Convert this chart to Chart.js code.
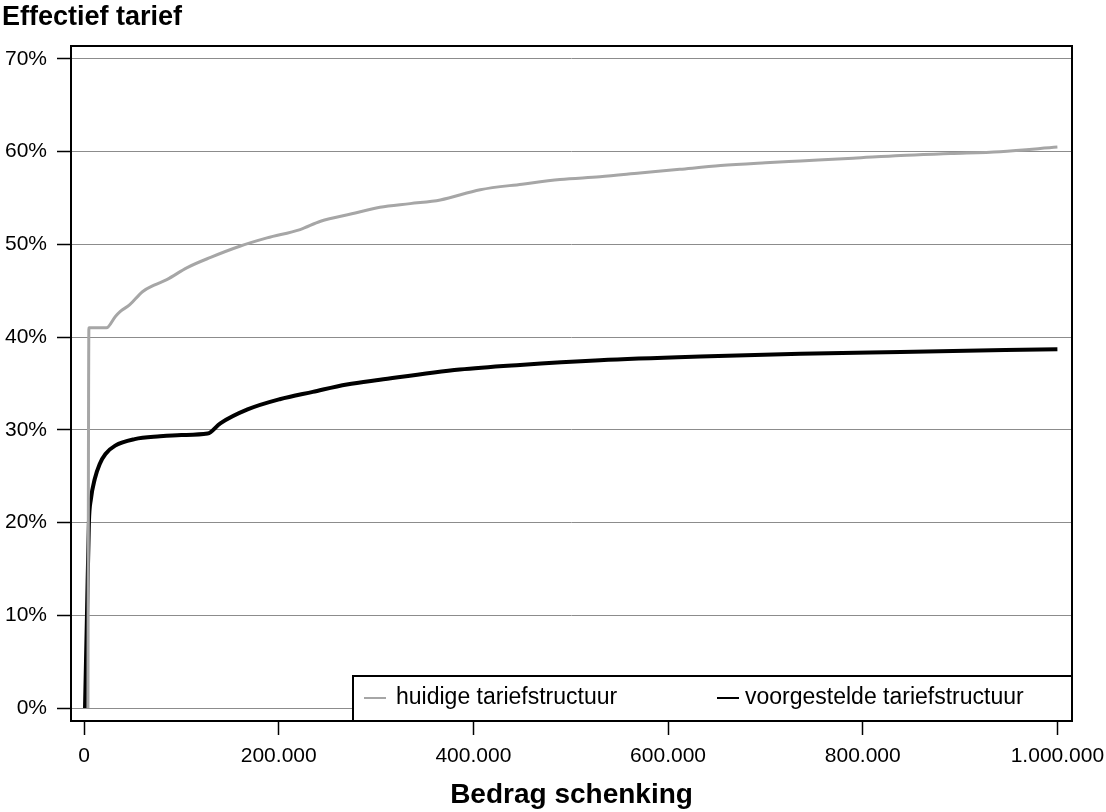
<!DOCTYPE html>
<html>
<head>
<meta charset="utf-8">
<script src="https://cdn.jsdelivr.net/npm/chart.js@4.4.0/dist/chart.umd.min.js"></script>
<style>
    html, body { margin: 0; padding: 0; background: #fff; }
    canvas { display: block; }
</style>
</head>
<body>
<canvas id="lineChart" width="1106" height="812"></canvas>
<script>
// tick labels
var xTicks = [0, 200000, 400000, 600000, 800000, 1000000];
var yTicks = [0, 10, 20, 30, 40, 50, 60, 70];

// huidige tariefstructuur (grijs)
var huidigeX = [4000, 5000, 23000, 32000, 37000, 47000, 60000, 72000, 85000, 106000, 130000, 160000, 188000, 222000, 243000, 275000, 304000, 335000, 366000, 407000, 450000, 489000, 530000, 571000, 612000, 654000, 700000, 736000, 790000, 839000, 890000, 941000, 1000000];
var huidigeY = [0, 41, 41, 42.2, 42.75, 43.5, 44.9, 45.6, 46.2, 47.5, 48.6, 49.8, 50.7, 51.6, 52.5, 53.3, 54, 54.4, 54.8, 55.9, 56.5, 57, 57.3, 57.7, 58.1, 58.5, 58.8, 59, 59.3, 59.6, 59.8, 60, 60.5];

// voorgestelde tariefstructuur (zwart)
var voorgesteldX = [1000, 3000, 5000, 7000, 11000, 16000, 22000, 32000, 52000, 78000, 100000, 127000, 140000, 168000, 201000, 235000, 270000, 304000, 386000, 448000, 530000, 633000, 736000, 839000, 1000000];
var voorgesteldY = [0, 10, 20, 22.5, 24.7, 26.3, 27.4, 28.3, 29, 29.3, 29.45, 29.6, 30.7, 32.2, 33.3, 34.1, 34.9, 35.4, 36.5, 37, 37.5, 37.9, 38.2, 38.4, 38.7];

var seriesLabels = ["huidige tariefstructuur", "voorgestelde tariefstructuur"];
var seriesColors = ["#a6a6a6", "#000000"];

var fontFamily = "'Liberation Sans', Arial, sans-serif";

function toPoints(xs, ys) {
    return xs.map(function(x, i) { return { x: x, y: ys[i] }; });
}

function formatThousands(v) {
    return String(v).replace(/\B(?=(\d{3})+(?!\d))/g, ".");
}

// box around plot area + legend inside bottom right
var frameAndLegend = {
    id: "frameAndLegend",
    afterDatasetsDraw: function(chart) {
        var ctx = chart.ctx;
        var area = chart.chartArea;
        ctx.save();
        ctx.strokeStyle = "#000";
        ctx.lineWidth = 2;
        ctx.strokeRect(area.left, area.top, area.right - area.left, area.bottom - area.top);

        var boxLeft = area.left + 282;
        var boxTop = area.bottom - 45;
        ctx.fillStyle = "#fff";
        ctx.fillRect(boxLeft, boxTop, area.right - boxLeft, area.bottom - boxTop);
        ctx.strokeRect(boxLeft, boxTop, area.right - boxLeft, area.bottom - boxTop);

        var itemX = [boxLeft + 11, boxLeft + 364];
        var textGap = [32, 28];
        var midY = boxTop + 22;
        ctx.font = "23px " + fontFamily;
        ctx.textBaseline = "middle";
        chart.data.datasets.forEach(function(ds, i) {
            ctx.strokeStyle = ds.borderColor;
            ctx.lineWidth = 2;
            ctx.beginPath();
            ctx.moveTo(itemX[i], midY);
            ctx.lineTo(itemX[i] + 22, midY);
            ctx.stroke();
            ctx.fillStyle = "#000";
            ctx.fillText(ds.label, itemX[i] + textGap[i], midY);
        });
        ctx.restore();
    }
};

var lineChartCanvas = document.getElementById("lineChart").getContext("2d");
var lineChart = new Chart(lineChartCanvas, {
    type: "line",
    data: {
        datasets: [
            {
                label: seriesLabels[0],
                data: toPoints(huidigeX, huidigeY),
                borderColor: seriesColors[0],
                borderWidth: 3,
                pointRadius: 0,
                cubicInterpolationMode: "monotone",
                fill: false
            },
            {
                label: seriesLabels[1],
                data: toPoints(voorgesteldX, voorgesteldY),
                borderColor: seriesColors[1],
                borderWidth: 4,
                pointRadius: 0,
                cubicInterpolationMode: "monotone",
                fill: false
            }
        ]
    },
    options: {
        responsive: false,
        animation: false,
        devicePixelRatio: 1,
        layout: { padding: { left: 2, right: 34, top: 0, bottom: 0 } },
        plugins: {
            legend: { display: false },
            tooltip: { enabled: false },
            title: {
                display: true,
                text: "Effectief tarief",
                align: "start",
                color: "#000",
                font: { family: fontFamily, size: 27, weight: "bold" },
                padding: { top: 1, bottom: 12.6 }
            }
        },
        scales: {
            x: {
                type: "linear",
                min: -13400,
                max: 1015000,
                afterBuildTicks: function(axis) {
                    axis.ticks = xTicks.map(function(v) { return { value: v }; });
                },
                afterFit: function(scale) {
                    scale.height = 91;
                    scale.paddingLeft = 0;
                    scale.paddingRight = 0;
                },
                border: { display: false },
                grid: {
                    drawOnChartArea: false,
                    drawTicks: true,
                    tickLength: 14,
                    tickColor: "#000",
                    tickWidth: 1.5
                },
                ticks: {
                    color: "#000",
                    padding: 9,
                    maxRotation: 0,
                    font: { family: fontFamily, size: 21 },
                    callback: function(v) { return formatThousands(v); }
                },
                title: {
                    display: true,
                    text: "Bedrag schenking",
                    color: "#000",
                    font: { family: fontFamily, size: 28, weight: "bold" },
                    padding: { top: 0, bottom: 0 }
                }
            },
            y: {
                min: -1.4,
                max: 71.4,
                afterBuildTicks: function(axis) {
                    axis.ticks = yTicks.map(function(v) { return { value: v }; });
                },
                afterFit: function(scale) { scale.width = 69; },
                border: { display: false },
                grid: {
                    color: "#8c8c8c",
                    lineWidth: 1,
                    tickLength: 14,
                    tickColor: "#000",
                    tickWidth: 1.5
                },
                ticks: {
                    color: "#000",
                    padding: 10,
                    font: { family: fontFamily, size: 21 },
                    callback: function(v) { return v + "%"; }
                }
            }
        }
    },
    plugins: [frameAndLegend]
});
</script>
</body>
</html>
